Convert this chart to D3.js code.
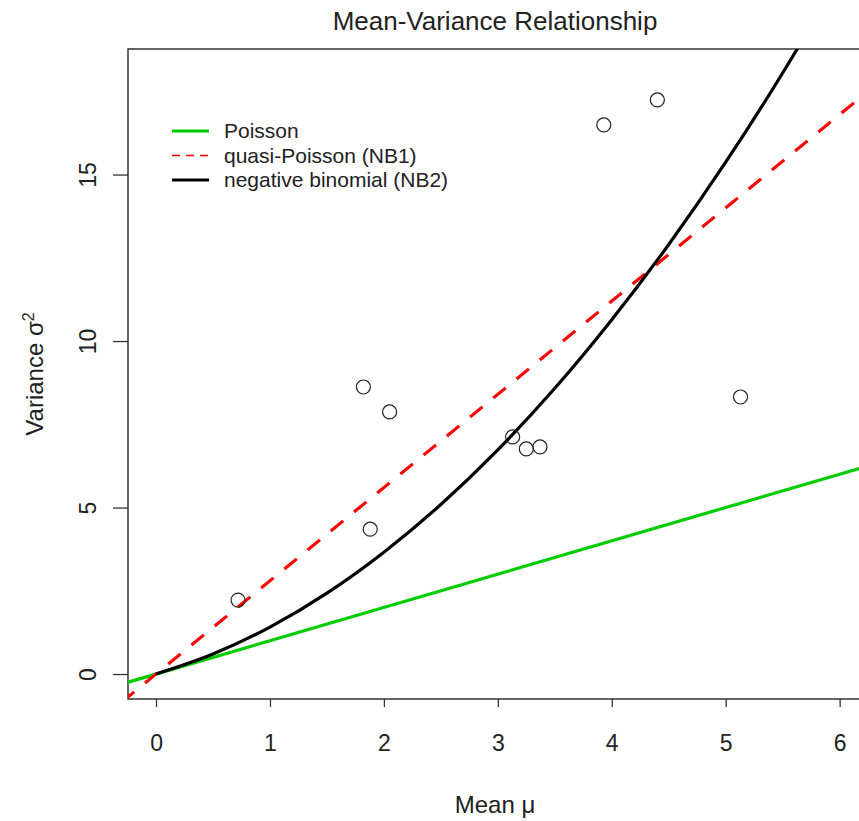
<!DOCTYPE html>
<html>
<head>
<meta charset="utf-8">
<title>Mean-Variance Relationship</title>
<script src="https://d3js.org/d3.v7.min.js"></script>
<style>
  body { margin: 0; background: #fff; }
  text { font-family: "Liberation Sans", Arial, sans-serif; fill: #222; }
</style>
</head>
<body>
<script>
var pointMean = [0.72, 1.82, 1.88, 2.05, 3.13, 3.25, 3.37, 3.93, 4.40, 5.13];
var pointVar  = [2.22, 8.62, 4.35, 7.87, 7.12, 6.76, 6.82, 16.49, 17.24, 8.32];

// fitted curves, points
var poissonX = [-0.3, 6.3];
var poissonY = [-0.3, 6.3];
var quasiX = [-0.3, 6.3];
var quasiY = [-0.84, 17.64];
var nbX = [0, 0.5, 1, 1.5, 2, 2.5, 3, 3.5, 4, 4.5, 5, 5.5, 5.8];
var nbY = [0, 0.60, 1.41, 2.43, 3.66, 5.09, 6.73, 8.58, 10.64, 12.90, 15.37, 18.05, 19.76];

var xTicks = [0, 1, 2, 3, 4, 5, 6];
var yTicks = [0, 5, 10, 15];

var legendLabels = ["Poisson", "quasi-Poisson (NB1)", "negative binomial (NB2)"];
var legendColors = ["#00cd00", "#ff0000", "#000000"];
var legendDash = [null, "8,6", null];

var W = 859, H = 821;
var plotLeft = 128, plotTop = 49, plotBottom = 699, plotRight = 859;

var x = d3.scaleLinear().domain([-0.246, 6.17]).range([plotLeft, plotRight]);
var y = d3.scaleLinear().domain([-0.75, 18.77]).range([plotBottom, plotTop]);

var svg = d3.select("body").append("svg")
    .attr("width", W)
    .attr("height", H);

svg.append("defs").append("clipPath").attr("id", "plotclip")
  .append("rect")
    .attr("x", plotLeft).attr("y", plotTop)
    .attr("width", plotRight - plotLeft + 20).attr("height", plotBottom - plotTop);

// frame (right side runs off the image)
svg.append("rect")
    .attr("x", plotLeft).attr("y", plotTop)
    .attr("width", plotRight - plotLeft + 20).attr("height", plotBottom - plotTop)
    .attr("fill", "none")
    .attr("stroke", "#333")
    .attr("stroke-width", 1.5);

// x axis
var xAxis = d3.axisBottom(x).tickValues(xTicks).tickSize(8).tickPadding(28)
    .tickFormat(d3.format("d"));
var gx = svg.append("g")
    .attr("transform", "translate(0," + plotBottom + ")")
    .call(xAxis);
gx.select(".domain").remove();
gx.selectAll("line").attr("stroke", "#333").attr("stroke-width", 1.3);
gx.selectAll("text").attr("font-size", 23).style("font-family", "'Liberation Sans', Arial, sans-serif").attr("fill", "#222");

// y axis
var yAxis = d3.axisLeft(y).tickValues(yTicks).tickSize(15).tickPadding(0)
    .tickFormat(d3.format("d"));
var gy = svg.append("g")
    .attr("transform", "translate(" + plotLeft + ",0)")
    .call(yAxis);
gy.select(".domain").remove();
gy.selectAll("line").attr("stroke", "#333").attr("stroke-width", 1.3);
gy.selectAll("text")
    .attr("font-size", 23)
    .style("font-family", "'Liberation Sans', Arial, sans-serif")
    .attr("fill", "#222")
    .attr("x", 0).attr("dy", 0)
    .attr("text-anchor", "middle")
    .attr("transform", "translate(-32,0) rotate(-90)");

var plot = svg.append("g").attr("clip-path", "url(#plotclip)");

var line = d3.line()
    .x(function(d) { return x(d[0]); })
    .y(function(d) { return y(d[1]); });

plot.append("path")
    .datum(d3.zip(poissonX, poissonY))
    .attr("d", line)
    .attr("fill", "none")
    .attr("stroke", legendColors[0])
    .attr("stroke-width", 3.2);

plot.append("path")
    .datum(d3.zip(quasiX, quasiY))
    .attr("d", line)
    .attr("fill", "none")
    .attr("stroke", legendColors[1])
    .attr("stroke-width", 3.2)
    .attr("stroke-dasharray", "16,14");

plot.append("path")
    .datum(d3.zip(nbX, nbY))
    .attr("d", line.curve(d3.curveMonotoneX))
    .attr("fill", "none")
    .attr("stroke", legendColors[2])
    .attr("stroke-width", 3.2);

plot.selectAll("circle")
    .data(d3.zip(pointMean, pointVar))
    .enter().append("circle")
    .attr("cx", function(d) { return x(d[0]); })
    .attr("cy", function(d) { return y(d[1]); })
    .attr("r", 7)
    .attr("fill", "none")
    .attr("stroke", "#222")
    .attr("stroke-width", 1.2);

// legend
var leg = svg.append("g").attr("transform", "translate(172,131)");
legendLabels.forEach(function(lab, i) {
  var row = leg.append("g").attr("transform", "translate(0," + (i * 24.5) + ")");
  row.append("line")
      .attr("x1", 0).attr("x2", 37)
      .attr("stroke", legendColors[i])
      .attr("stroke-width", i == 1 ? 1.5 : 3)
      .attr("stroke-dasharray", legendDash[i]);
  row.append("text")
      .attr("x", 52).attr("dy", "0.35em")
      .attr("font-size", 21)
      .text(lab);
});

// titles
svg.append("text")
    .attr("x", 495).attr("y", 30)
    .attr("text-anchor", "middle")
    .attr("font-size", 26)
    .text("Mean-Variance Relationship");

svg.append("text")
    .attr("x", 495).attr("y", 813)
    .attr("text-anchor", "middle")
    .attr("font-size", 24)
    .text("Mean \u03bc");

svg.append("text")
    .attr("transform", "translate(43,374) rotate(-90)")
    .attr("text-anchor", "middle")
    .attr("font-size", 24)
    .html("Variance \u03c3<tspan dy='-9' font-size='16'>2</tspan>");
</script>
</body>
</html>
